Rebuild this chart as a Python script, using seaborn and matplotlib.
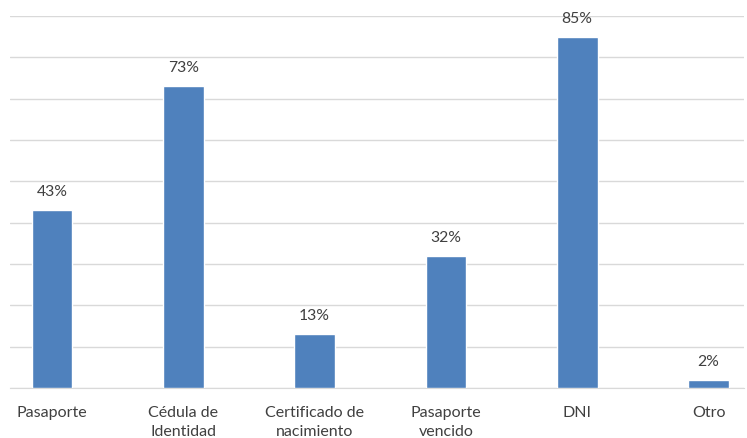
import numpy as np
import pandas as pd
import seaborn as sns
import matplotlib.pyplot as plt

# données
categorias = ['Pasaporte', 'Cédula de\nIdentidad', 'Certificado de\nnacimiento',
              'Pasaporte\nvencido', 'DNI', 'Otro']
porcentajes = [43, 73, 13, 32, 85, 2]

df = pd.DataFrame({'Documento': categorias, 'Porcentaje': porcentajes})

sns.set_style('white')
plt.rcParams['font.family'] = ['Lato', 'DejaVu Sans']

fig = plt.figure(figsize=(7.47, 4.38), dpi=100)
ax = fig.add_axes([10 / 747, 50 / 438, 734 / 747, 372 / 438])

sns.barplot(data=df, x='Documento', y='Porcentaje', color='#4f81bd',
            saturation=1, width=0.31, ax=ax, zorder=3)

ax.bar_label(ax.containers[0], labels=[f'{v}%' for v in porcentajes],
             padding=8, fontsize=11.3, color='#404040')

ax.set_xlim(-0.32, 5.27)
ax.set_ylim(0, 90)
ax.set_yticks(np.arange(0, 91, 10))
ax.set_yticklabels([])
ax.yaxis.grid(True, color='#d9d9d9', linewidth=1)
ax.tick_params(axis='both', length=0)
ax.tick_params(axis='x', pad=13, labelsize=11.5, labelcolor='#404040')
for lbl in ax.get_xticklabels():
    lbl.set_linespacing(1.45)
ax.set_xlabel('')
ax.set_ylabel('')
for s in ['top', 'left', 'right']:
    ax.spines[s].set_visible(False)
ax.spines['bottom'].set_color('#d9d9d9')

fig.savefig('out.png', dpi=100)
